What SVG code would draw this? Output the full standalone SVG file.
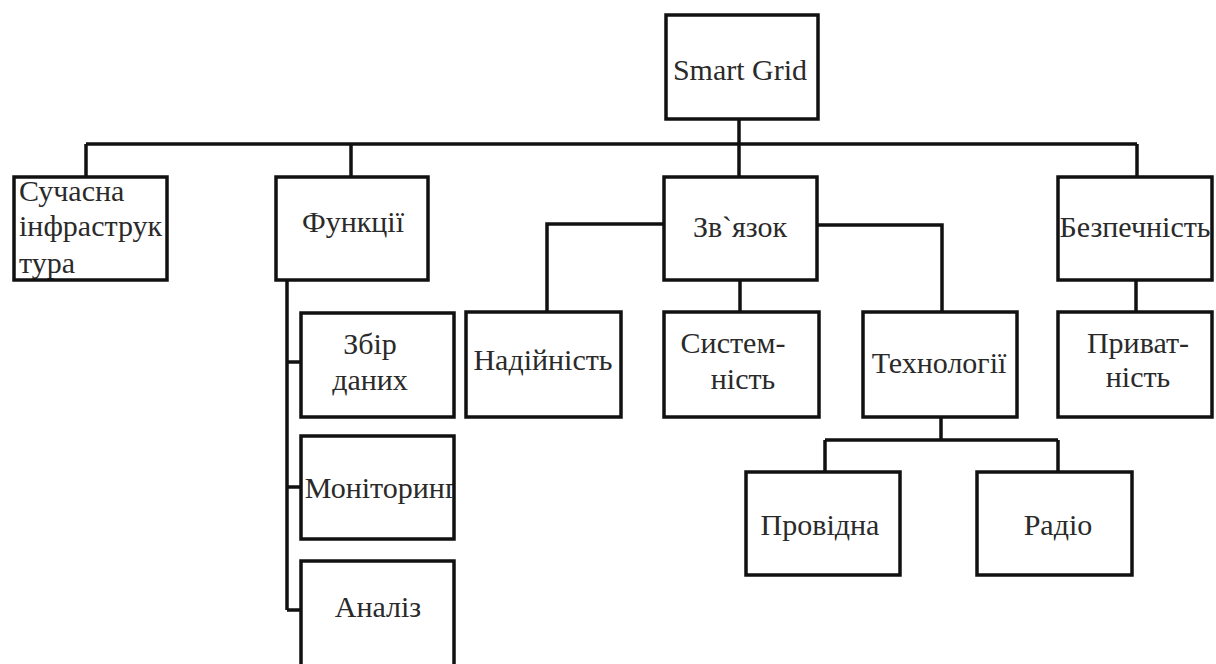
<svg xmlns="http://www.w3.org/2000/svg" width="1216" height="664" viewBox="0 0 1216 664">
<style>
.box{fill:none;stroke:#111;stroke-width:3.5}
.ln{fill:none;stroke:#111;stroke-width:3.5}
.t{font-family:'Liberation Serif','DejaVu Serif',serif;font-size:30px;fill:#2a2a2a}
.c{text-anchor:middle}
</style>
<defs>
<clipPath id="cS"><rect x="14" y="177" width="153" height="103"/></clipPath>
<clipPath id="cB"><rect x="1058" y="177" width="154" height="103"/></clipPath>
<clipPath id="cM"><rect x="301" y="436" width="153" height="103"/></clipPath>
</defs>
<rect width="1216" height="664" fill="#fff"/>
<g id="connectors">
<path class="ln" d="M86,144 H1137"/>
<path class="ln" d="M739,119 V177"/>
<path class="ln" d="M86,144 V177"/>
<path class="ln" d="M351,144 V177"/>
<path class="ln" d="M1137,144 V177"/>
<path class="ln" d="M287,280 V610 M287,362 H301 M287,487 H301 M287,610 H301"/>
<path class="ln" d="M664,224 H547 V312"/>
<path class="ln" d="M740,280 V312"/>
<path class="ln" d="M817,225 H942 V312"/>
<path class="ln" d="M941,417 V440 M825,440 H1058 M825,440 V472 M1058,440 V472"/>
<path class="ln" d="M1136,280 V312"/>
</g>
<g class="t" font-family="Liberation Serif, DejaVu Serif, serif">
<g id="smart-grid"><rect class="box" x="666" y="15" width="152" height="104"/><text class="c" x="740" y="80">Smart Grid</text></g>
<g id="suchasna"><g clip-path="url(#cS)"><text x="19" y="201">Сучасна</text><text x="19" y="236">інфраструк</text><text x="19" y="273">тура</text></g><rect class="box" x="14" y="177" width="153" height="103"/></g>
<g id="funktsii"><rect class="box" x="276" y="177" width="152" height="103"/><text class="c" x="353" y="232">Функції</text></g>
<g id="zviazok"><rect class="box" x="664" y="177" width="153" height="103"/><text class="c" x="740" y="237">Зв`язок</text></g>
<g id="bezpechnist"><g clip-path="url(#cB)"><text class="c" x="1135" y="237">Безпечність</text></g><rect class="box" x="1058" y="177" width="154" height="103"/></g>
<g id="zbir"><rect class="box" x="301" y="313" width="153" height="104"/><text class="c" x="370" y="354">Збір</text><text class="c" x="370" y="390">даних</text></g>
<g id="monitoring"><g clip-path="url(#cM)"><text class="c" x="381" y="498">Моніторинг</text></g><rect class="box" x="301" y="436" width="153" height="103"/></g>
<g id="analiz"><rect class="box" x="301" y="561" width="153" height="106"/><text class="c" x="378" y="617">Аналіз</text></g>
<g id="nadiinist"><rect class="box" x="466" y="312" width="155" height="105"/><text class="c" x="543" y="370">Надійність</text></g>
<g id="systemnist"><rect class="box" x="664" y="312" width="155" height="105"/><text class="c" x="733" y="353">Систем-</text><text class="c" x="743" y="389">ність</text></g>
<g id="tekhnolohii"><rect class="box" x="863" y="312" width="154" height="105"/><text class="c" x="939" y="373">Технології</text></g>
<g id="pryvatnist"><rect class="box" x="1058" y="312" width="154" height="105"/><text class="c" x="1138" y="353">Приват-</text><text class="c" x="1138" y="387">ність</text></g>
<g id="providna"><rect class="box" x="746" y="472" width="154" height="103"/><text class="c" x="820" y="535">Провідна</text></g>
<g id="radio"><rect class="box" x="977" y="472" width="155" height="103"/><text class="c" x="1058" y="535">Радіо</text></g>
</g>
</svg>
